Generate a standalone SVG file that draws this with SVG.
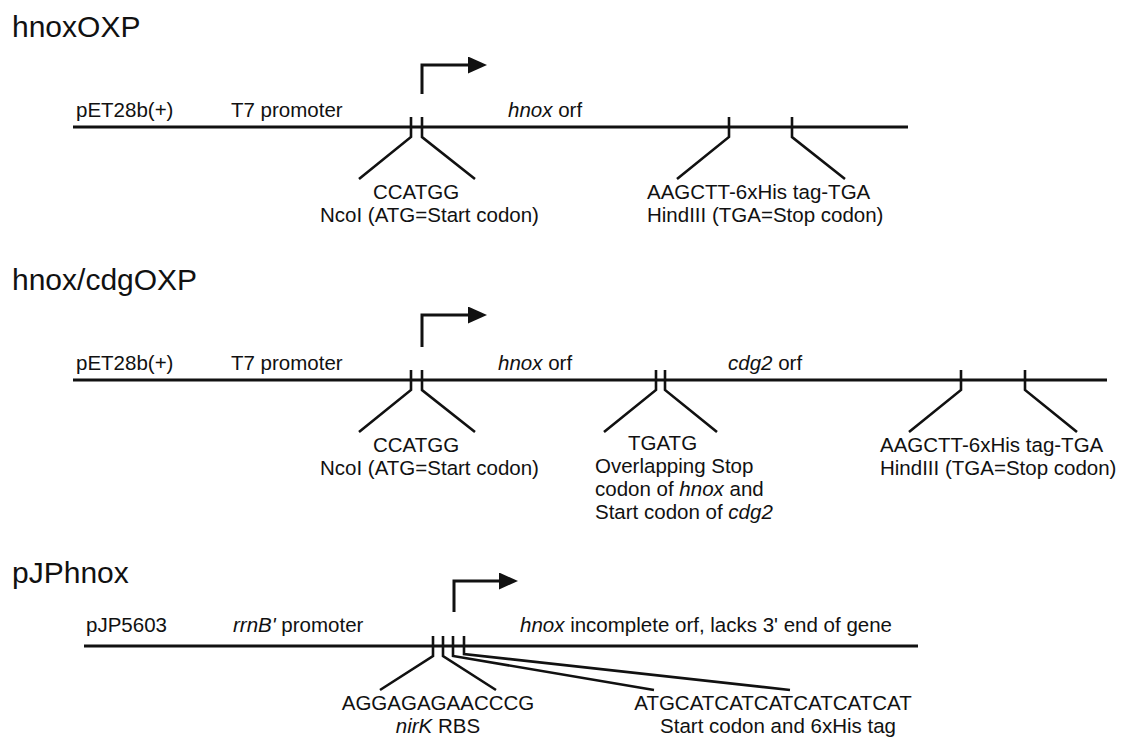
<svg xmlns="http://www.w3.org/2000/svg" width="1127" height="738" viewBox="0 0 1127 738">
<style>
text{font-family:"Liberation Sans",Arial,sans-serif;fill:#111}
.t{font-size:30px}
.l{font-size:20.5px}
.i{font-style:italic}
.bb{stroke:#111;stroke-width:3;fill:none}
.k{stroke:#111;stroke-width:2.6;fill:none;stroke-linejoin:miter}
.p{stroke:#111;stroke-width:3;fill:none}
</style>
<defs>
<marker id="arr" viewBox="0 0 19 17" refX="2" refY="8.5" markerWidth="19" markerHeight="17" markerUnits="userSpaceOnUse" orient="auto">
<path d="M0,0 L19,8.5 L0,17 Z" fill="#111"/>
</marker>
</defs>
<rect width="1127" height="738" fill="#fff"/>

<!-- Section 1 -->
<g id="hnoxOXP">
<text class="t" x="12" y="37">hnoxOXP</text>
<line class="bb" x1="73" y1="127" x2="908" y2="127"/>
<text class="l" x="76" y="117">pET28b(+)</text>
<text class="l" x="231" y="117">T7 promoter</text>
<text class="l" x="508" y="117"><tspan class="i">hnox</tspan> orf</text>
<path class="p" d="M422,94 V65 H470" marker-end="url(#arr)"/>
</g>
<g id="ncoI-1">
<text class="l" x="373" y="199">CCATGG</text>
<text class="l" x="320" y="222">NcoI (ATG=Start codon)</text>
</g>
<g id="hindIII-1">
<text class="l" x="647" y="199">AAGCTT-6xHis tag-TGA</text>
<text class="l" x="647" y="222">HindIII (TGA=Stop codon)</text>
</g>

<!-- Section 2 -->
<g id="hnox-cdgOXP">
<text class="t" x="12" y="290">hnox/cdgOXP</text>
<line class="bb" x1="73" y1="380" x2="1107" y2="380"/>
<text class="l" x="76" y="370">pET28b(+)</text>
<text class="l" x="231" y="370">T7 promoter</text>
<text class="l" x="498" y="370"><tspan class="i">hnox</tspan> orf</text>
<text class="l" x="728" y="370"><tspan class="i">cdg2</tspan> orf</text>
<path class="p" d="M422,347 V315 H470" marker-end="url(#arr)"/>
</g>
<g id="ncoI-2">
<text class="l" x="373" y="452">CCATGG</text>
<text class="l" x="320" y="475">NcoI (ATG=Start codon)</text>
</g>
<g id="tgatg-2">
<text class="l" x="628" y="450">TGATG</text>
<text class="l" x="595" y="473">Overlapping Stop</text>
<text class="l" x="595" y="496">codon of <tspan class="i">hnox</tspan> and</text>
<text class="l" x="595" y="519">Start codon of <tspan class="i">cdg2</tspan></text>
</g>
<g id="hindIII-2">
<text class="l" x="880" y="452">AAGCTT-6xHis tag-TGA</text>
<text class="l" x="880" y="475">HindIII (TGA=Stop codon)</text>
</g>

<!-- Section 3 -->
<g id="pJPhnox">
<text class="t" x="12" y="583">pJPhnox</text>
<line class="bb" x1="84" y1="646" x2="918" y2="646"/>
<text class="l" x="86" y="632">pJP5603</text>
<text class="l" x="233" y="632"><tspan class="i">rrnB'</tspan> promoter</text>
<text class="l" x="520" y="632"><tspan class="i">hnox</tspan> incomplete orf, lacks 3' end of gene</text>
<path class="p" d="M454,612 V581 H501" marker-end="url(#arr)"/>
</g>
<g id="rbs-3">
<text class="l" x="438" y="710" text-anchor="middle">AGGAGAGAACCCG</text>
<text class="l" x="438" y="733" text-anchor="middle"><tspan class="i">nirK</tspan> RBS</text>
</g>
<g id="his-3">
<text class="l" x="773" y="710" text-anchor="middle">ATGCATCATCATCATCATCAT</text>
<text class="l" x="778" y="733" text-anchor="middle">Start codon and 6xHis tag</text>
</g>

<g id="connectors">
<path class="k" d="M411,117 V137 L359,179"/>
<path class="k" d="M422,117 V137 L475,179"/>
<path class="k" d="M729,117 V137 L677,179"/>
<path class="k" d="M792,117 V137 L845,179"/>
<path class="k" d="M411,370 V390 L359,432"/>
<path class="k" d="M422,370 V390 L475,432"/>
<path class="k" d="M656,370 V390 L604,432"/>
<path class="k" d="M665,370 V390 L717,432"/>
<path class="k" d="M961,370 V390 L909,432"/>
<path class="k" d="M1025,370 V390 L1077,432"/>
<path class="k" d="M433,636 V656 L380,690"/>
<path class="k" d="M443,636 V656 L496,690"/>
<path class="k" d="M453,636 V656 L654,690"/>
<path class="k" d="M464,636 V654 L790,690"/>
</g>
</svg>
